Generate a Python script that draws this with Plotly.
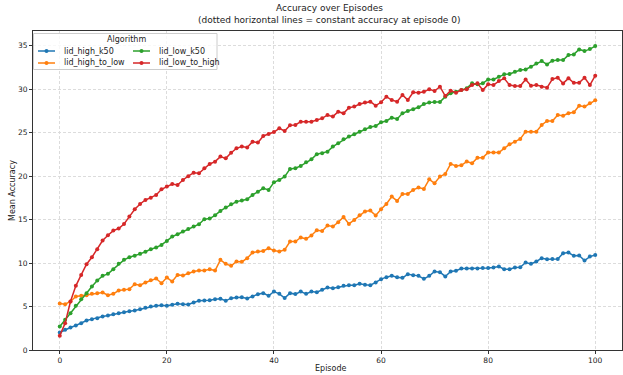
import plotly.graph_objects as go

episodes = list(range(101))

lid_high_k50 = [2.01, 2.32, 2.59, 2.82, 3.09, 3.39, 3.55, 3.66, 3.85, 3.97,
                4.12, 4.24, 4.35, 4.47, 4.54, 4.70, 4.85, 5.00, 5.10, 5.15,
                5.10, 5.20, 5.31, 5.27, 5.23, 5.46, 5.66, 5.70, 5.72, 5.85,
                5.89, 5.66, 5.96, 6.04, 6.08, 5.92, 6.15, 6.42, 6.54, 6.23,
                6.73, 6.46, 5.97, 6.54, 6.43, 6.73, 6.46, 6.73, 6.65, 6.92,
                7.19, 7.11, 7.23, 7.38, 7.46, 7.46, 7.61, 7.50, 7.46, 7.77,
                8.15, 8.38, 8.53, 8.38, 8.30, 8.72, 8.61, 8.53, 8.19, 8.53,
                9.03, 8.95, 8.46, 9.03, 9.11, 9.38, 9.38, 9.38, 9.38, 9.42,
                9.42, 9.49, 9.60, 9.30, 9.30, 9.49, 9.52, 10.06, 9.91, 10.18,
                10.56, 10.44, 10.48, 10.48, 11.13, 11.21, 10.83, 10.87, 10.29, 10.75,
                10.94]

lid_high_to_low = [5.35, 5.27, 5.58, 6.15, 6.23, 6.31, 6.46, 6.54, 6.61, 6.31,
                   6.46, 6.84, 6.92, 7.00, 7.57, 7.45, 7.76, 8.03, 8.22, 7.68,
                   8.33, 7.88, 8.64, 8.57, 8.84, 9.03, 9.14, 9.14, 9.30, 9.14,
                   10.37, 9.91, 9.68, 10.18, 10.14, 10.56, 11.21, 11.33, 11.40, 11.71,
                   11.45, 11.33, 11.52, 12.48, 12.48, 12.94, 12.79, 13.17, 13.78, 13.70,
                   14.32, 14.20, 14.70, 15.31, 14.51, 14.97, 15.50, 15.93, 16.04, 15.47,
                   16.20, 16.81, 17.65, 17.15, 17.96, 17.96, 18.42, 18.69, 18.53, 19.64,
                   19.18, 19.95, 20.26, 21.41, 21.18, 21.25, 21.68, 21.48, 22.13, 22.13,
                   22.72, 22.71, 22.71, 23.20, 23.66, 23.97, 24.28, 25.12, 25.12, 25.12,
                   25.89, 26.35, 26.35, 27.04, 26.96, 27.23, 27.34, 28.11, 28.00, 28.38,
                   28.72]

lid_low_k50 = [2.70, 3.47, 4.24, 5.08, 5.85, 6.53, 7.30, 8.00, 8.53, 8.76,
               9.29, 9.91, 10.37, 10.67, 10.83, 11.06, 11.30, 11.60, 11.80, 12.09,
               12.55, 13.05, 13.32, 13.62, 13.93, 14.20, 14.47, 15.04, 15.12, 15.50,
               16.00, 16.38, 16.77, 17.07, 17.19, 17.34, 17.84, 18.22, 18.61, 18.42,
               19.30, 19.57, 19.95, 20.83, 20.91, 21.18, 21.60, 21.94, 22.52, 22.63,
               22.82, 23.40, 23.78, 24.24, 24.55, 24.82, 25.12, 25.39, 25.66, 25.77,
               26.20, 26.35, 26.73, 26.58, 27.23, 27.50, 27.69, 27.92, 28.30, 28.46,
               28.53, 28.53, 29.15, 29.53, 29.72, 29.91, 30.10, 30.68, 30.56, 30.68,
               31.13, 31.13, 31.44, 31.71, 31.75, 32.02, 32.21, 32.28, 32.59, 32.97,
               33.24, 32.86, 33.28, 33.36, 33.36, 33.93, 34.01, 34.58, 34.39, 34.62,
               34.97]

lid_low_to_high = [1.63, 3.09, 5.58, 7.38, 8.64, 9.87, 10.67, 11.59, 12.59, 13.20,
                   13.74, 13.97, 14.50, 15.35, 16.19, 16.80, 17.26, 17.53, 17.84, 18.49,
                   18.80, 19.10, 18.99, 19.56, 20.00, 20.40, 20.33, 20.90, 21.40, 21.67,
                   22.25, 22.05, 22.70, 23.20, 23.40, 23.30, 23.97, 23.86, 24.62, 24.85,
                   25.08, 25.50, 25.20, 25.85, 25.89, 26.27, 26.27, 26.27, 26.46, 26.65,
                   27.04, 26.85, 27.42, 27.23, 27.88, 28.00, 28.30, 28.46, 28.57, 28.11,
                   28.50, 29.15, 28.76, 28.57, 29.34, 28.76, 29.65, 29.61, 29.72, 29.99,
                   29.80, 30.30, 29.22, 29.84, 29.61, 29.91, 29.99, 30.49, 30.68, 29.91,
                   30.56, 30.48, 30.94, 31.25, 30.48, 30.37, 30.37, 31.13, 30.41, 30.48,
                   30.29, 30.18, 31.17, 31.33, 30.67, 31.25, 30.75, 30.75, 31.33, 30.48,
                   31.56]

series_names = ["lid_high_k50", "lid_high_to_low", "lid_low_k50", "lid_low_to_high"]
series_values = [lid_high_k50, lid_high_to_low, lid_low_k50, lid_low_to_high]
colors = ["#1f77b4", "#ff7f0e", "#2ca02c", "#d62728"]

x_ticks = [0, 20, 40, 60, 80, 100]
y_ticks = [0, 5, 10, 15, 20, 25, 30, 35]

FONT = "DejaVu Sans"
TXT = "#222222"

fig = go.Figure()
for name, vals, col in zip(series_names, series_values, colors):
    fig.add_trace(go.Scatter(
        x=episodes, y=vals, name=name, mode="lines+markers",
        line=dict(color=col, width=1.5),
        marker=dict(color=col, size=4),
        showlegend=False,
    ))

W, H = 623, 375
L, R, T, B = 33, 1, 31, 25
pw, ph = W - L - R, H - T - B

def px_x(p):
    return (p - L) / pw

def px_y(p):
    return (H - B - p) / ph

axis_common = dict(
    showgrid=True, gridcolor="#dcdcdc", griddash="3px,2px", gridwidth=0.8,
    showline=True, linecolor="#333333", linewidth=1, mirror=True,
    ticks="outside", ticklen=3, tickcolor="#333333",
    tickfont=dict(family=FONT, size=7.5, color=TXT),
    zeroline=False,
)

def ann(text, x, y, size=8, angle=0, xanchor="center"):
    return dict(text=text, xref="paper", yref="paper", x=x, y=y,
                xanchor=xanchor, yanchor="middle", showarrow=False,
                textangle=angle,
                font=dict(family=FONT, size=size, color=TXT))

# legend box (Algorithm), 2 columns
shapes = [dict(type="rect", xref="paper", yref="paper",
               x0=px_x(33.5), x1=px_x(217), y0=px_y(69.5), y1=px_y(33.5),
               line=dict(color="#cccccc", width=1),
               fillcolor="rgba(255,255,255,0.8)", layer="above")]
annotations = [ann("Algorithm", px_x(126.5), px_y(39.5), size=8)]

# entries in series order: high_k50, high_to_low, low_k50, low_to_high
legend_cols = [38, 38, 133, 133]     # line start x (px) for each entry
legend_rows = [51, 63, 51, 63]       # y (px) for each entry
for name, col, lx, ly in zip(series_names, colors, legend_cols, legend_rows):
    shapes.append(dict(type="line", xref="paper", yref="paper",
                       x0=px_x(lx), x1=px_x(lx + 17), y0=px_y(ly), y1=px_y(ly),
                       line=dict(color=col, width=1.5), layer="above"))
    shapes.append(dict(type="circle", xref="paper", yref="paper",
                       x0=px_x(lx + 6.5), x1=px_x(lx + 10.5),
                       y0=px_y(ly + 2), y1=px_y(ly - 2),
                       line=dict(color=col, width=0), fillcolor=col,
                       layer="above"))
    annotations.append(ann(name, px_x(lx + 24), px_y(ly), size=8,
                           xanchor="left"))

annotations += [
    ann("Accuracy over Episodes", px_x(329), px_y(8), size=9),
    ann("(dotted horizontal lines = constant accuracy at episode 0)",
        px_x(329), px_y(20), size=9),
    ann("Episode", px_x(330), px_y(368), size=8),
    ann("Mean Accuracy", px_x(12), px_y(190), size=8, angle=-90),
]

fig.update_layout(
    width=W, height=H,
    margin=dict(l=L, r=R, t=T, b=B),
    paper_bgcolor="white", plot_bgcolor="white",
    font=dict(family=FONT, size=8, color=TXT),
    xaxis=dict(range=[-5, 105], tickvals=x_ticks, **axis_common),
    yaxis=dict(range=[0, 36.7], tickvals=y_ticks, **axis_common),
    showlegend=False,
    shapes=shapes,
    annotations=annotations,
)

fig.write_html("out.html",
               config={"displayModeBar": False},
               post_script="document.body.style.margin='0';document.body.style.overflow='hidden';")
